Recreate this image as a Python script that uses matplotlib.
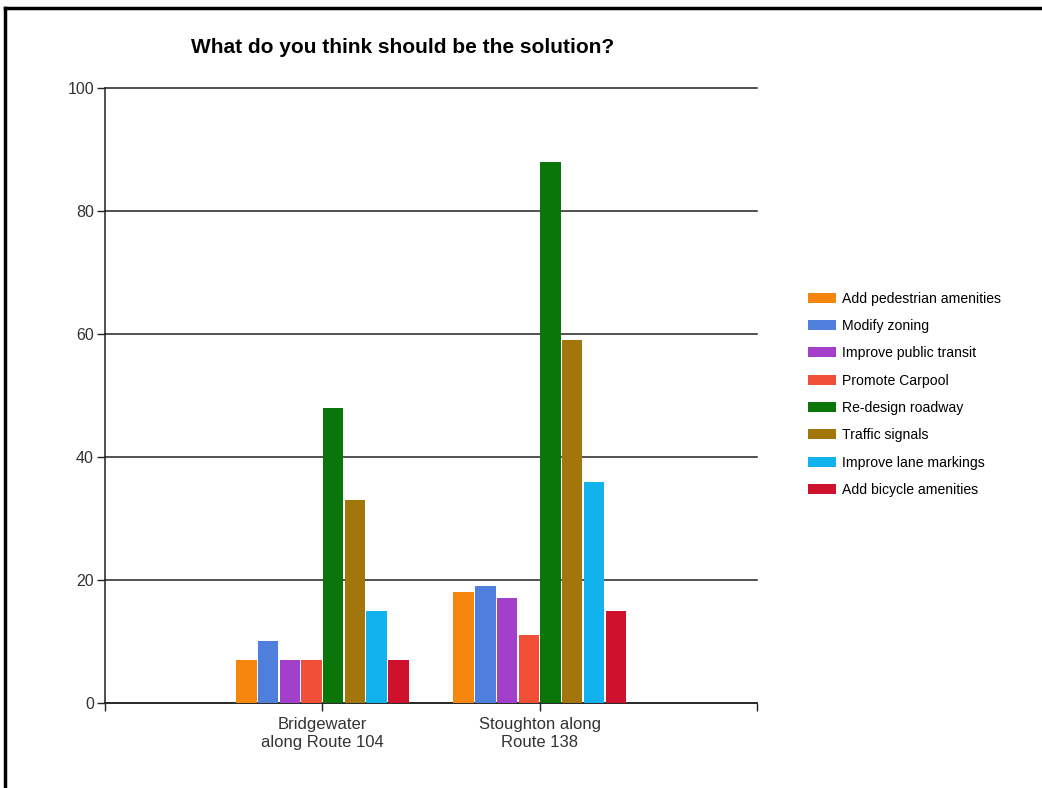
import matplotlib
matplotlib.use("Agg")
import matplotlib.pyplot as plt
import numpy as np
from matplotlib.lines import Line2D

plt.rcParams["font.family"] = ["Liberation Sans", "DejaVu Sans"]

# survey answers
places = ["Bridgewater\nalong Route 104", "Stoughton along\nRoute 138"]
answers = ["Add pedestrian amenities", "Modify zoning", "Improve public transit",
           "Promote Carpool", "Re-design roadway", "Traffic signals",
           "Improve lane markings", "Add bicycle amenities"]
bridgewater = [7, 10, 7, 7, 48, 33, 15, 7]
stoughton = [18, 19, 17, 11, 88, 59, 36, 15]
colors = ["#F5850C", "#4E7FDC", "#A240CC", "#F24F38",
          "#0A760A", "#A2760A", "#12B2EE", "#D0112E"]

fig = plt.figure(figsize=(10.42, 7.88), dpi=100)
ax = fig.add_axes([0.1008, 0.1079, 0.6257, 0.7805])

x = np.arange(len(places))
slot = 0.1
for i, (name, c) in enumerate(zip(answers, colors)):
    vals = [bridgewater[i], stoughton[i]]
    ax.bar(x - 0.4 + slot * (i + 0.5), vals, width=slot * 0.94, color=c,
           label=name, zorder=3)

ax.set_xlim(-1, 2)
ax.set_ylim(0, 100)
ax.set_yticks(range(0, 101, 20))
ax.set_xticks(x)
ax.set_xticklabels(places, linespacing=1.25)
ax.set_xticks([-1, 2], minor=True)
ax.yaxis.grid(True, color="#222222", lw=1.1, zorder=1)
for gl in ax.get_ygridlines():
    gl.set_clip_on(False)
ax.set_axisbelow(True)
for s in ["top", "right"]:
    ax.spines[s].set_visible(False)
for s in ["left", "bottom"]:
    ax.spines[s].set_color("#222222")
    ax.spines[s].set_linewidth(1.1)
ax.tick_params(axis="y", length=6, width=1, pad=2, labelsize=11.5,
               labelcolor="#333333", color="#222222")
ax.tick_params(axis="x", which="both", length=6, width=1, pad=4,
               labelsize=12, labelcolor="#333333", color="#222222")

fig.text(0.386, 0.940, "What do you think should be the solution?",
         ha="center", va="center", fontsize=15, fontweight="bold")

fig.legend(loc="upper left", bbox_to_anchor=(0.770, 0.637), frameon=False,
           fontsize=10.1, labelspacing=0.95, handlelength=2.0,
           handleheight=0.7, handletextpad=0.4, borderaxespad=0)

# page frame
fig.add_artist(Line2D([0.005, 0.005], [0, 0.990], color="black", lw=2.5,
                      transform=fig.transFigure))
fig.add_artist(Line2D([0.005, 1.0], [0.990, 0.990], color="black", lw=2.5,
                      transform=fig.transFigure))

fig.savefig("out.png", dpi=100, facecolor="white")
